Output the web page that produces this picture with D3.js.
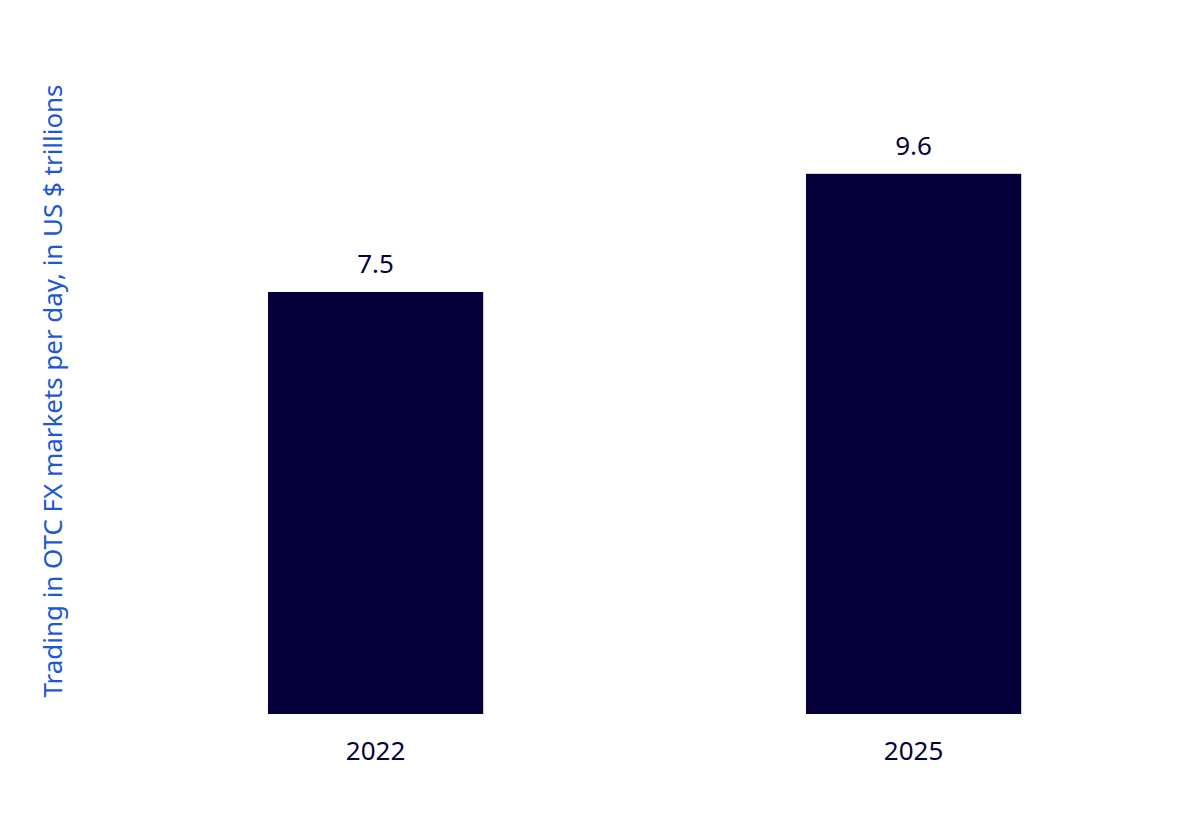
<!DOCTYPE html>
<html><head><meta charset="utf-8">
<script src="https://cdn.jsdelivr.net/npm/d3@7"></script>
<style>body{margin:0;background:#fff}svg{display:block}</style>
</head><body>
<svg id="c" width="1200" height="817"></svg>
<script>
const categories = ["2022", "2025"];
const values = [7.5, 9.6];
const yLabel = "Trading in OTC FX markets per day, in US $ trillions";

const svg = d3.select("#c");
const font = "'Source Sans Pro','Noto Sans','Open Sans',sans-serif";
const x = d3.scaleBand().domain(categories).range([106.6, 1182.6]).paddingInner(0.6).paddingOuter(0.3);
const y = d3.scaleLinear().domain([0, 7.5]).range([714, 292]);

svg.selectAll("rect").data(values).join("rect")
  .attr("x", (d,i) => x(categories[i]))
  .attr("width", x.bandwidth())
  .attr("y", d => y(d))
  .attr("height", d => y(0) - y(d))
  .attr("fill", "#05003a");

svg.selectAll("text.v").data(values).join("text").attr("class","v")
  .attr("x", (d,i) => x(categories[i]) + x.bandwidth()/2)
  .attr("y", d => y(d) - 19)
  .attr("text-anchor","middle")
  .attr("font-family", font).attr("font-size", 26)
  .attr("fill", "#06033a")
  .text(d => d.toFixed(1));

const xAxis = svg.append("g").attr("transform","translate(0,714)")
  .call(d3.axisBottom(x).tickSize(0).tickPadding(28));
xAxis.select(".domain").remove();
xAxis.selectAll("text").attr("font-family", font).attr("font-size", 26).attr("fill","#06033a");

svg.append("text")
  .attr("transform","translate(62,391) rotate(-90)")
  .attr("text-anchor","middle")
  .attr("font-family", font).attr("font-size", 26)
  .attr("textLength", 613).attr("lengthAdjust","spacingAndGlyphs")
  .attr("fill","#1c58d2")
  .text(yLabel);
</script>
</body></html>
